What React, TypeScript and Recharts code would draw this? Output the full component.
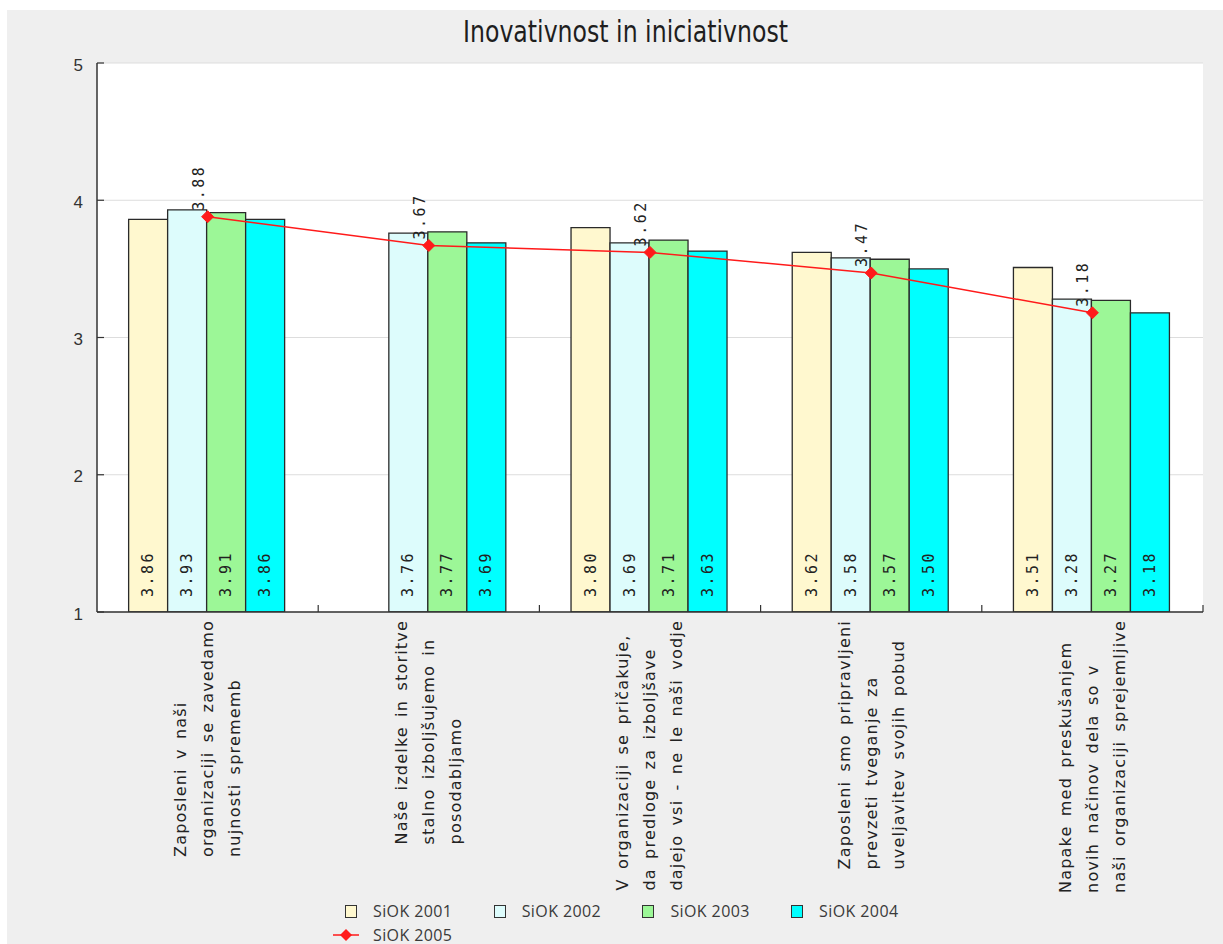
import React from "react";
import {
  ComposedChart,
  Bar,
  Line,
  XAxis,
  YAxis,
  CartesianGrid,
  Legend,
  LabelList,
} from "recharts";

// Survey statements (line breaks mark the wrapped axis label rows)
const categories = [
  "Zaposleni v naši\norganizaciji se zavedamo\nnujnosti sprememb",
  "Naše izdelke in storitve\nstalno izboljšujemo in\nposodabljamo",
  "V organizaciji se pričakuje,\nda predloge za izboljšave\ndajejo vsi - ne le naši vodje",
  "Zaposleni smo pripravljeni\nprevzeti tveganje za\nuveljavitev svojih pobud",
  "Napake med preskušanjem\nnovih načinov dela so v\nnaši organizaciji sprejemljive",
];

const siok2001 = [3.86, null, 3.8, 3.62, 3.51];
const siok2002 = [3.93, 3.76, 3.69, 3.58, 3.28];
const siok2003 = [3.91, 3.77, 3.71, 3.57, 3.27];
const siok2004 = [3.86, 3.69, 3.63, 3.5, 3.18];
const siok2005 = [3.88, 3.67, 3.62, 3.47, 3.18];

const yTicks = [1, 2, 3, 4, 5];

const barSeries = [
  { key: "s2001", name: "SiOK 2001", color: "#fff8cf" },
  { key: "s2002", name: "SiOK 2002", color: "#ddfcfc" },
  { key: "s2003", name: "SiOK 2003", color: "#9cf797" },
  { key: "s2004", name: "SiOK 2004", color: "#00ffff" },
];
const lineSeries = { key: "s2005", name: "SiOK 2005", color: "#ff1a1a" };

const data = categories.map((c, i) => ({
  category: c,
  s2001: siok2001[i],
  s2002: siok2002[i],
  s2003: siok2003[i],
  s2004: siok2004[i],
  s2005: siok2005[i],
}));

// Layout
const W = 1216;
const H = 934;
const PLOT_LEFT = 90;
const PLOT_RIGHT = 1196;
const PLOT_TOP = 53;
const LEGEND_H = 46;
const X_AXIS_H = 286;
const PLOT_BOTTOM = H - LEGEND_H - X_AXIS_H;
const BAND = (PLOT_RIGHT - PLOT_LEFT) / categories.length;

const AXIS_COLOR = "#333";
const LABEL_FONT = "'DejaVu Sans', sans-serif";
const LABEL_SIZE = 16;
const LABEL_SPACING = 1.2;
const WORD_SPACING = 3;
const LINE_STEP = 27;
const VALUE_FONT = "'DejaVu Sans Mono', monospace";

let measureCtx: CanvasRenderingContext2D | null = null;
function textWidth(s: string): number {
  const spaces = (s.match(/ /g) || []).length;
  if (!measureCtx) {
    measureCtx = document.createElement("canvas").getContext("2d");
  }
  if (!measureCtx) return s.length * LABEL_SIZE * 0.6;
  measureCtx.font = `${LABEL_SIZE}px 'DejaVu Sans'`;
  return (
    measureCtx.measureText(s).width +
    s.length * LABEL_SPACING +
    spaces * WORD_SPACING
  );
}

const CategoryTick = (props: any) => {
  const { x, payload } = props;
  const lines: string[] = String(payload.value).split("\n");
  const maxW = Math.max(...lines.map(textWidth));
  const baseY = PLOT_BOTTOM + 8 + maxW;
  const tickX = x + BAND / 2;
  return (
    <g>
      <line
        x1={tickX}
        x2={tickX}
        y1={PLOT_BOTTOM}
        y2={PLOT_BOTTOM - 7}
        stroke={AXIS_COLOR}
        strokeWidth={1.2}
      />
      {lines.map((ln, i) => {
        const lx = x + (i - (lines.length - 1) / 2) * LINE_STEP;
        return (
          <text
            key={i}
            x={lx}
            y={baseY}
            transform={`rotate(-90, ${lx}, ${baseY})`}
            textAnchor="start"
            dominantBaseline="central"
            fontFamily={LABEL_FONT}
            fontSize={LABEL_SIZE}
            letterSpacing={LABEL_SPACING}
            wordSpacing={WORD_SPACING}
            fill="#222"
          >
            {ln}
          </text>
        );
      })}
    </g>
  );
};

const ValueTick = (props: any) => {
  const { y, payload } = props;
  return (
    <g>
      <line
        x1={PLOT_LEFT}
        x2={PLOT_LEFT + 7}
        y1={y}
        y2={y}
        stroke={AXIS_COLOR}
        strokeWidth={1.2}
      />
      <text
        x={PLOT_LEFT - 14}
        y={y + 2}
        textAnchor="end"
        dominantBaseline="central"
        fontFamily="'Liberation Sans', Arial, sans-serif"
        fontSize={17}
        fill="#333"
      >
        {payload.value}
      </text>
    </g>
  );
};

const BarValueLabel = (props: any) => {
  const { x, y, width, height, value } = props;
  if (value === null || value === undefined) return null;
  const tx = x + width / 2 + 5;
  const ty = y + height - 15;
  return (
    <text
      x={tx}
      y={ty}
      transform={`rotate(-90, ${tx}, ${ty})`}
      textAnchor="start"
      fontFamily={VALUE_FONT}
      fontSize={15}
      letterSpacing={2.5}
      fill="#222"
    >
      {Number(value).toFixed(2)}
    </text>
  );
};

const LinePointLabel = (props: any) => {
  const { x, y, value } = props;
  if (value === null || value === undefined) return null;
  const tx = x - 4;
  const ty = y - 6;
  return (
    <text
      x={tx}
      y={ty}
      transform={`rotate(-90, ${tx}, ${ty})`}
      textAnchor="start"
      fontFamily={VALUE_FONT}
      fontSize={15}
      letterSpacing={2.5}
      fill="#222"
    >
      {Number(value).toFixed(2)}
    </text>
  );
};

const Diamond = (props: any) => {
  const { cx, cy, fill } = props;
  if (cx == null || cy == null) return null;
  const r = 6;
  return (
    <polygon
      points={`${cx},${cy - r} ${cx + r},${cy} ${cx},${cy + r} ${cx - r},${cy}`}
      fill={fill}
      stroke={fill}
      strokeWidth={1}
      strokeLinejoin="round"
    />
  );
};

const LEGEND_X0 = 338;
const LEGEND_STEP = 148.7;

const renderLegend = () => (
  <div
    style={{
      position: "relative",
      width: W,
      height: LEGEND_H,
      fontFamily: "'Open Sans', sans-serif",
      fontSize: 16,
      letterSpacing: 0.4,
      color: "#3a3a3a",
    }}
  >
    {barSeries.map((s, i) => (
      <div key={s.key}>
        <div
          style={{
            position: "absolute",
            left: LEGEND_X0 + i * LEGEND_STEP,
            top: 7,
            width: 10,
            height: 11,
            background: s.color,
            border: "1px solid #333",
          }}
        />
        <div
          style={{
            position: "absolute",
            left: LEGEND_X0 + 28 + i * LEGEND_STEP,
            top: 2,
            lineHeight: "22px",
            whiteSpace: "nowrap",
          }}
        >
          {s.name}
        </div>
      </div>
    ))}
    <svg
      style={{ position: "absolute", left: LEGEND_X0 - 12, top: 30 }}
      width={26}
      height={14}
    >
      <line x1={0} x2={26} y1={7} y2={7} stroke={lineSeries.color} strokeWidth={1.5} />
      <polygon points="13,1 19,7 13,13 7,7" fill={lineSeries.color} />
    </svg>
    <div
      style={{
        position: "absolute",
        left: LEGEND_X0 + 28,
        top: 26,
        lineHeight: "22px",
        whiteSpace: "nowrap",
      }}
    >
      {lineSeries.name}
    </div>
  </div>
);

export default function App() {
  return (
    <div
      style={{
        position: "absolute",
        left: 0,
        top: 0,
        width: 1223,
        height: 944,
        background: "#ffffff",
      }}
    >
      <div
        style={{
          position: "absolute",
          left: 7,
          top: 10,
          width: W,
          height: H,
          background: "#efefef",
        }}
      >
        <ComposedChart
          width={W}
          height={H}
          data={data}
          margin={{ top: PLOT_TOP, right: W - PLOT_RIGHT, left: 0, bottom: 0 }}
          barCategoryGap="14.3%"
          barGap={0}
        >
          <text
            x={456}
            y={32}
            textLength={325}
            lengthAdjust="spacingAndGlyphs"
            fontFamily="'DejaVu Sans Condensed', 'DejaVu Sans', sans-serif"
            fontSize={31}
            fill="#1e1e1e"
          >
            Inovativnost in iniciativnost
          </text>
          <CartesianGrid
            horizontal
            vertical={false}
            stroke="#dddddd"
            fill="#ffffff"
          />
          <XAxis
            dataKey="category"
            height={X_AXIS_H}
            interval={0}
            tickLine={false}
            axisLine={{ stroke: AXIS_COLOR, strokeWidth: 1.5 }}
            tick={<CategoryTick />}
          />
          <YAxis
            domain={[1, 5]}
            ticks={yTicks}
            width={PLOT_LEFT}
            tickLine={false}
            axisLine={{ stroke: AXIS_COLOR, strokeWidth: 1.5 }}
            tick={<ValueTick />}
            allowDataOverflow
          />
          <Legend
            verticalAlign="bottom"
            content={renderLegend}
            wrapperStyle={{ height: LEGEND_H }}
          />
          {barSeries.map((s) => (
            <Bar
              key={s.key}
              dataKey={s.key}
              name={s.name}
              fill={s.color}
              stroke="#2a2a2a"
              strokeWidth={1.3}
              isAnimationActive={false}
            >
              <LabelList dataKey={s.key} content={<BarValueLabel />} />
            </Bar>
          ))}
          <Line
            dataKey={lineSeries.key}
            name={lineSeries.name}
            stroke={lineSeries.color}
            strokeWidth={1.5}
            dot={<Diamond fill={lineSeries.color} />}
            activeDot={false}
            isAnimationActive={false}
          >
            <LabelList dataKey={lineSeries.key} content={<LinePointLabel />} />
          </Line>
        </ComposedChart>
      </div>
    </div>
  );
}
